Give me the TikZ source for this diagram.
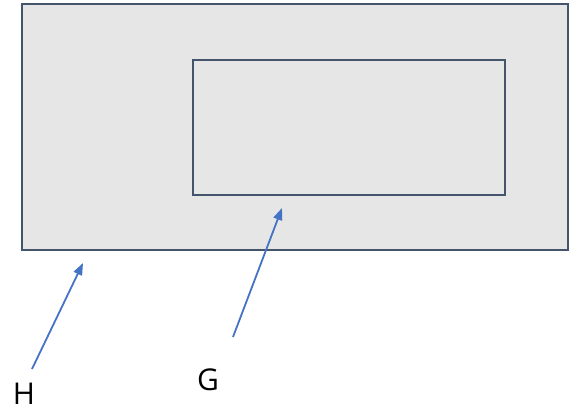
\documentclass[tikz,border=0pt]{standalone}
\usepackage{fontspec}
\setmainfont{Open Sans}
\usetikzlibrary{arrows.meta}
\definecolor{boxfill}{HTML}{E6E6E6}
\definecolor{boxline}{HTML}{44546A}
\definecolor{arrowblue}{HTML}{4472C4}
\begin{document}
\begin{tikzpicture}[x=1pt,y=-1pt,
  region/.style={draw=boxline,fill=boxfill,line width=1.8pt},
  pointer/.style={draw=arrowblue,line width=1.8pt,-{Triangle[length=12pt,width=9pt]}},
  lbl/.style={font=\fontsize{30}{30}\selectfont,inner sep=0pt}]
\useasboundingbox (0,0) rectangle (582,412);
\draw[region] (22,4) rectangle (568,250);
\draw[region] (193,60) rectangle (505,195);
\coordinate (hs) at (32,369);
\coordinate (ht) at (83,263);
\coordinate (gs) at (233,337);
\coordinate (gt) at (282,208);
\draw[pointer] (hs) -- (ht);
\draw[pointer] (gs) -- (gt);
\node[lbl] (H) at (24,394) {H};
\node[lbl] (G) at (208,380) {G};
\end{tikzpicture}
\end{document}
